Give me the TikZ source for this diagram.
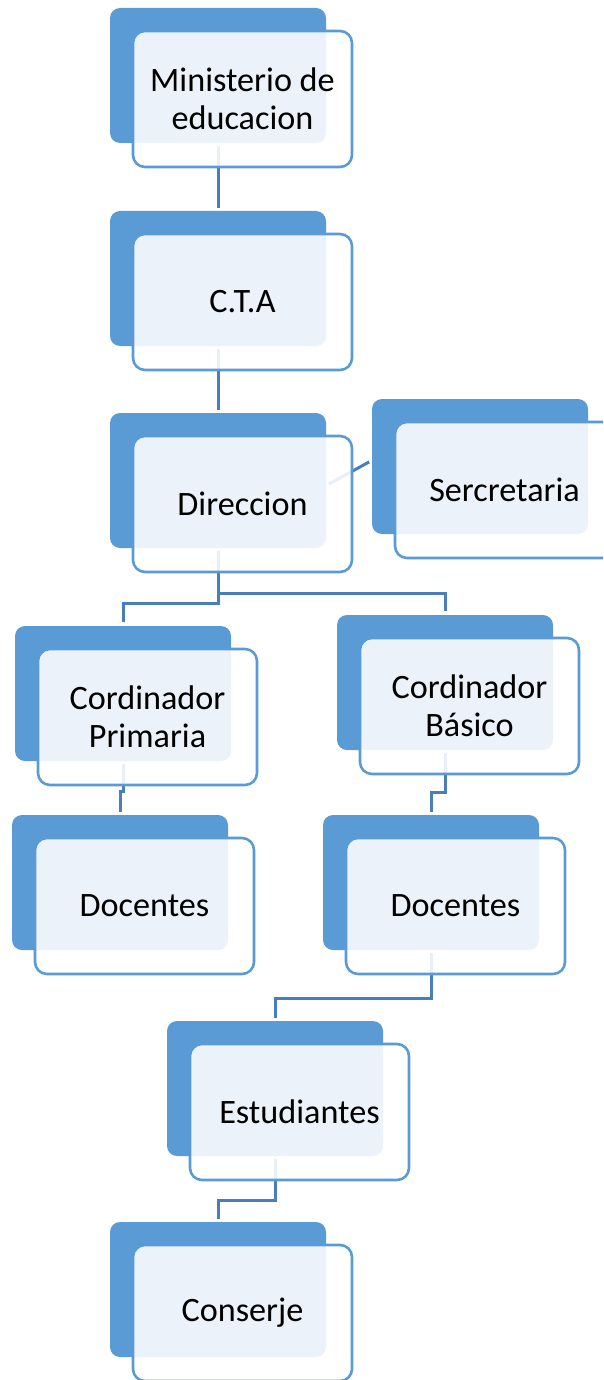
\documentclass[tikz,border=0pt]{standalone}
\usepackage{fontspec}
\setmainfont{Carlito}
\usetikzlibrary{backgrounds,calc}
\definecolor{darkblue}{RGB}{91,155,213}
\definecolor{connblue}{RGB}{74,126,187}
\tikzset{
  backbox/.style={fill=darkblue, draw=none, rounded corners=10pt, minimum width=216pt, minimum height=135pt, inner sep=0pt},
  frontbox/.style={fill=white, fill opacity=0.88, text opacity=1, draw=darkblue, line width=2.6pt, rounded corners=12pt, minimum width=219pt, minimum height=136pt, inner sep=0pt, align=center, font=\fontsize{34.2}{38}\selectfont},
  conn/.style={draw=connblue, line width=3pt, shorten <=3pt, shorten >=3pt}
}
\newcommand\orgbox[4]{%
  \node[backbox] (#1D) at (#2+108,#3+67.5) {};
  \node[frontbox] (#1) at (#2+132.5,#3+91) {#4};
}
\begin{document}
\begin{tikzpicture}[x=1pt,y=-1pt]
\clip (0,0) rectangle (603,1380);
\useasboundingbox (0,0) rectangle (603,1380);
\orgbox{min}{110}{8}{Ministerio de\\educacion}
\orgbox{cta}{110}{211}{C.T.A}
\orgbox{dir}{110}{413}{Direccion}
\orgbox{sec}{372}{399}{Sercretaria}
\orgbox{prim}{15}{626}{Cordinador\\Primaria}
\orgbox{bas}{337}{615}{Cordinador\\Básico}
\orgbox{docA}{12}{815}{Docentes}
\orgbox{docB}{323}{815}{Docentes}
\orgbox{est}{167}{1021}{Estudiantes}
\orgbox{con}{110}{1222}{Conserje}
\begin{scope}[on background layer]
\draw[conn] (minD.south) -- (ctaD.north);
\draw[conn] (ctaD.south) -- (dirD.north);
\draw[conn] ($(dirD.east)+(0,5)$) -- ($(secD.west)+(0,-6)$);
\draw[conn, shorten >=4pt] (dirD.south) -- ++(0,55) -| (primD.north);
\draw[conn, shorten >=4pt] (dirD.south) -- ++(0,45) -| (basD.north);
\draw[conn] (primD.south) -- ++(0,30) -| (docAD.north);
\draw[conn] (basD.south) -- ++(0,42) -| (docBD.north);
\draw[conn] (docBD.south) -- ++(0,48) -| (estD.north);
\draw[conn] (estD.south) -- ++(0,44) -| (conD.north);
\end{scope}
\end{tikzpicture}
\end{document}
